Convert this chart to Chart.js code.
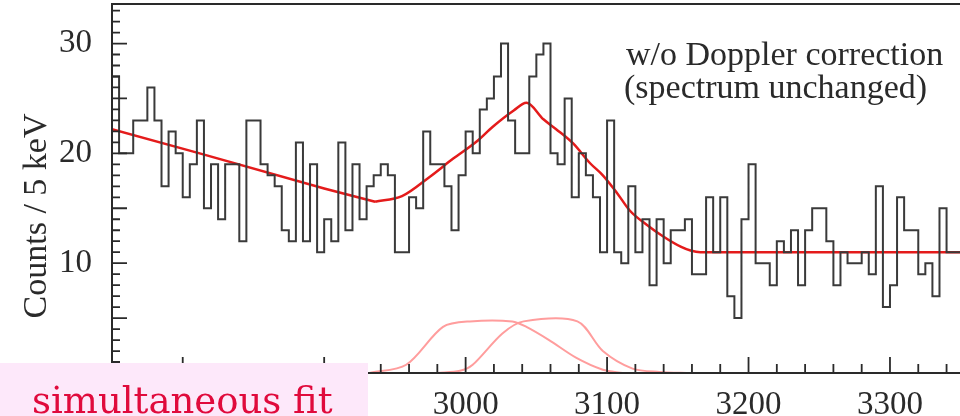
<!DOCTYPE html>
<html>
<head>
<meta charset="utf-8">
<script src="https://cdn.jsdelivr.net/npm/chart.js@4.4.1/dist/chart.umd.min.js"></script>
<style>
html, body { margin: 0; padding: 0; background: #fff; }
</style>
</head>
<body>
<canvas id="spec" width="960" height="416"></canvas>
<script>
// histogram, 5 keV bins from 2750 keV
const binStart = 2750;
const binWidth = 5;
const counts = [
    26, 27, 20, 20, 23, 23, 26, 23, 17, 22,
    20, 16, 19, 23, 15, 19, 14, 19, 19, 12,
    23, 23, 19, 18, 17, 13, 12, 21, 12, 19,
    11, 14, 12, 21, 13, 19, 14, 17, 18, 19,
    18, 11, 11, 16, 15, 22, 19, 19, 17, 13,
    18, 22, 20, 24, 25, 27, 30, 23, 20, 20,
    27, 29, 30, 20, 19, 25, 16, 20, 18, 16,
    11, 23, 11, 10, 17, 11, 14, 8, 14, 10,
    13, 13, 14, 9, 9, 16, 11, 16, 7, 5,
    14, 19, 10, 10, 8, 12, 11, 13, 8, 13,
    15, 15, 12, 8, 11, 10, 10, 11, 9, 17,
    6, 8, 16, 13, 13, 9, 10, 7, 15, 11
];

// fit curves: [keV, counts]
const fitLeft = [[2750, 22.2], [2812, 20.0], [2900, 16.8], [2936, 15.6]];
const fitPeak = [
    [2936, 15.6], [2955, 16.1], [2975, 17.9], [2991, 19.5], [3008, 21.1],
    [3019, 22.4], [3034, 23.9], [3043, 24.6], [3055, 23.1],
    [3064, 22.2], [3076, 20.9], [3088, 19.1], [3097, 18.0], [3107, 16.4],
    [3116, 14.8], [3128, 13.5], [3140, 12.4], [3152, 11.5], [3159, 11.15],
    [3166, 11.0], [3350, 11.0]
];
const peakLow = [
    [2932, 0], [2958, 0.75], [2984, 4.2], [3003, 4.7], [3033, 4.7],
    [3043, 4.2], [3059, 3.0], [3078, 1.4], [3097, 0.3], [3111, 0]
];
const peakHigh = [
    [2980, 0], [2996, 0.2], [3005, 0.75], [3026, 3.6], [3041, 4.7],
    [3079, 4.7], [3097, 2.0], [3118, 0.4], [3137, 0.1], [3159, 0]
];

const xTicks = [2800, 2900, 3000, 3100, 3200, 3300];
const yTicks = [10, 20, 30];

const serif = '"Liberation Serif", "Times New Roman", serif';
const ink = "#2a2a2a";

const histPoints = counts.map((c, k) => ({ x: binStart + k * binWidth, y: c }));
histPoints.push({ x: binStart + counts.length * binWidth, y: counts[counts.length - 1] });

const decor = {
    id: "decor",
    afterDatasetsDraw(chart) {
        const { ctx, chartArea: a, scales: { x, y } } = chart;
        ctx.save();
        ctx.strokeStyle = ink;
        ctx.lineWidth = 1.8;

        // inward ticks
        ctx.beginPath();
        for (let v = 1; v <= 33; v++) {
            const py = y.getPixelForValue(v);
            const len = v % 5 === 0 ? 15 : 8;
            ctx.moveTo(a.left, py);
            ctx.lineTo(a.left + len, py);
        }
        for (let v = 2760; v <= 3340; v += 20) {
            const px = x.getPixelForValue(v);
            const len = v % 100 === 0 ? 16 : 9;
            ctx.moveTo(px, a.bottom);
            ctx.lineTo(px, a.bottom - len);
        }
        ctx.stroke();

        // frame
        ctx.lineWidth = 2;
        ctx.beginPath();
        ctx.moveTo(a.right + 2, a.top);
        ctx.lineTo(a.left, a.top);
        ctx.lineTo(a.left, a.bottom);
        ctx.lineTo(a.right + 2, a.bottom);
        ctx.stroke();
        ctx.restore();
    },
    afterDraw(chart) {
        const { ctx } = chart;
        ctx.save();
        ctx.fillStyle = ink;
        ctx.textBaseline = "alphabetic";
        ctx.font = "34px " + serif;
        ctx.fillText("w/o Doppler correction", 626, 65);
        ctx.fillText("(spectrum unchanged)", 624, 98);

        ctx.save();
        ctx.translate(37, 216);
        ctx.rotate(-Math.PI / 2);
        ctx.textAlign = "center";
        ctx.textBaseline = "middle";
        ctx.fillText("Counts / 5 keV", 0, 0);
        ctx.restore();

        // overlay label
        ctx.fillStyle = "#fde8fa";
        ctx.fillRect(0, 363, 368, 53);
        ctx.fillStyle = "#e00a3c";
        ctx.font = '37px "DejaVu Serif", serif';
        ctx.fillText("simultaneous fit", 32, 413);
        ctx.restore();
    }
};

new Chart(document.getElementById("spec"), {
    type: "line",
    data: {
        datasets: [
            {
                data: histPoints,
                stepped: "after",
                borderColor: "#3a3a3a",
                borderWidth: 2,
                pointRadius: 0
            },
            {
                data: peakLow,
                borderColor: "#ff9d9d",
                borderWidth: 2,
                pointRadius: 0,
                tension: 0.3
            },
            {
                data: peakHigh,
                borderColor: "#ff9d9d",
                borderWidth: 2,
                pointRadius: 0,
                tension: 0.3
            },
            {
                data: fitLeft,
                borderColor: "#e41b1b",
                borderWidth: 2.5,
                pointRadius: 0,
                tension: 0
            },
            {
                data: fitPeak,
                borderColor: "#e41b1b",
                borderWidth: 2.5,
                pointRadius: 0,
                cubicInterpolationMode: "monotone"
            }
        ]
    },
    options: {
        responsive: false,
        animation: false,
        devicePixelRatio: 1,
        layout: { padding: { top: 4, left: 0, right: 0, bottom: 0 } },
        plugins: {
            legend: { display: false },
            tooltip: { enabled: false }
        },
        scales: {
            x: {
                type: "linear",
                min: 2750,
                max: 3349.5,
                grid: { display: false },
                border: { display: false },
                afterBuildTicks: s => { s.ticks = xTicks.map(v => ({ value: v })); },
                afterFit: s => { s.height = 43; s.paddingLeft = 0; s.paddingRight = 0; },
                ticks: {
                    color: ink,
                    padding: 5,
                    maxRotation: 0,
                    font: { family: serif, size: 33 },
                    callback: v => String(v)
                }
            },
            y: {
                type: "linear",
                min: 0,
                max: 33.6,
                grid: { display: false },
                border: { display: false },
                afterBuildTicks: s => { s.ticks = yTicks.map(v => ({ value: v })); },
                afterFit: s => { s.width = 112; s.paddingTop = 0; s.paddingBottom = 0; },
                ticks: {
                    color: ink,
                    padding: 12,
                    font: { family: serif, size: 33 },
                    callback: v => String(v)
                }
            }
        }
    },
    plugins: [decor]
});
</script>
</body>
</html>
